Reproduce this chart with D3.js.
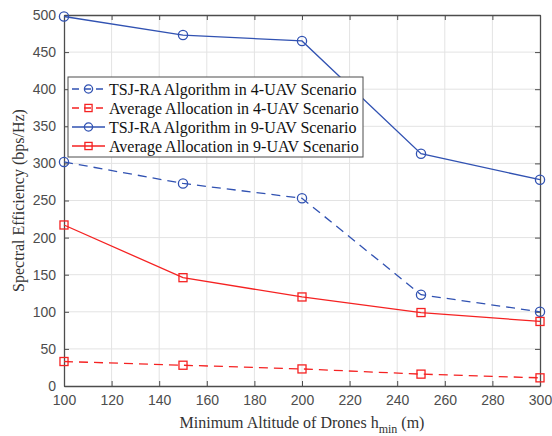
<!DOCTYPE html>
<html>
<head>
<meta charset="utf-8">
<script src="https://cdn.jsdelivr.net/npm/d3@7"></script>
<style>
    body { margin: 0; background: #fff; }
    svg { display: block; }
    .serif { font-family: "Liberation Serif", "Times New Roman", Times, serif; }
    .sans { font-family: "Liberation Sans", Arial, Helvetica, sans-serif; }
</style>
</head>
<body>
<div id="chart"></div>
<script>
// chart data
var altitudes = [100, 150, 200, 250, 300];
var tsj4 = [302, 273, 253, 123, 100];
var avg4 = [33, 28, 23, 16, 11];
var tsj9 = [498, 473, 465, 313, 278];
var avg9 = [217, 146, 120, 99, 87];
var seriesNames = [
    "TSJ-RA Algorithm in 4-UAV Scenario",
    "Average Allocation in 4-UAV Scenario",
    "TSJ-RA Algorithm in 9-UAV Scenario",
    "Average Allocation in 9-UAV Scenario"
];
var xTicks = [100, 120, 140, 160, 180, 200, 220, 240, 260, 280, 300];
var yTicks = [0, 50, 100, 150, 200, 250, 300, 350, 400, 450, 500];

(function(){
    var width = 552,
        height = 436;
    var left = 64, right = 540, top = 15, bottom = 386;
    var blue = "#3152b2", red = "#f52222", axisColor = "#4d4d4d";

    var series = [
        {name: seriesNames[0], values: tsj4, color: blue, dash: "9,6", marker: "circle"},
        {name: seriesNames[1], values: avg4, color: red, dash: "9,6", marker: "square"},
        {name: seriesNames[2], values: tsj9, color: blue, dash: null, marker: "circle"},
        {name: seriesNames[3], values: avg9, color: red, dash: null, marker: "square"}
    ];

    var svg = d3.select("#chart")
        .append("svg")
        .attr("width", width)
        .attr("height", height);

    var x = d3.scaleLinear().domain([100, 300]).range([left, right]);
    var y = d3.scaleLinear().domain([0, 500]).range([bottom, top]);

    //grid lines
    var grid = svg.append("g").attr("class", "grid");
    grid.selectAll(".vgrid")
        .data(xTicks.slice(1, -1))
        .enter()
        .append("line")
        .attr("x1", function(d){ return x(d); })
        .attr("x2", function(d){ return x(d); })
        .attr("y1", top)
        .attr("y2", bottom)
        .style("stroke", "#e3e3e3")
        .style("stroke-width", 1);
    grid.selectAll(".hgrid")
        .data(yTicks.slice(1, -1))
        .enter()
        .append("line")
        .attr("x1", left)
        .attr("x2", right)
        .attr("y1", function(d){ return y(d); })
        .attr("y2", function(d){ return y(d); })
        .style("stroke", "#e3e3e3")
        .style("stroke-width", 1);

    //axes, ticks pointing inward like matlab
    var xAxis = d3.axisBottom(x).tickValues(xTicks).tickSizeInner(-5).tickSizeOuter(0).tickPadding(9);
    var xAxisTop = d3.axisTop(x).tickValues(xTicks).tickSizeInner(-5).tickSizeOuter(0).tickFormat("");
    var yAxis = d3.axisLeft(y).tickValues(yTicks).tickSizeInner(-5).tickSizeOuter(0).tickPadding(8);
    var yAxisRight = d3.axisRight(y).tickValues(yTicks).tickSizeInner(-5).tickSizeOuter(0).tickFormat("");

    var axes = [
        svg.append("g").attr("transform", "translate(0," + bottom + ")").call(xAxis),
        svg.append("g").attr("transform", "translate(0," + top + ")").call(xAxisTop),
        svg.append("g").attr("transform", "translate(" + left + ",0)").call(yAxis),
        svg.append("g").attr("transform", "translate(" + right + ",0)").call(yAxisRight)
    ];
    axes.forEach(function(g){
        g.attr("font-family", null).attr("font-size", null).attr("class", "sans");
        g.select(".domain").style("stroke", axisColor).style("stroke-width", 1.3);
        g.selectAll(".tick line").style("stroke", axisColor).style("stroke-width", 1);
        g.selectAll(".tick text")
            .style("font-size", "14px")
            .style("fill", axisColor);
    });

    //series lines
    var line = d3.line()
        .x(function(d, i){ return x(altitudes[i]); })
        .y(function(d){ return y(d); });

    series.forEach(function(s){
        var g = svg.append("g");
        g.append("path")
            .datum(s.values)
            .attr("d", line)
            .style("fill", "none")
            .style("stroke", s.color)
            .style("stroke-width", 1.3)
            .style("stroke-dasharray", s.dash);
        drawMarkers(g, s, s.values.map(function(d, i){ return [x(altitudes[i]), y(d)]; }), 4.6);
    });

    function drawMarkers(g, s, pts, size){
        if (s.marker === "circle"){
            g.selectAll("circle")
                .data(pts)
                .enter()
                .append("circle")
                .attr("cx", function(d){ return d[0]; })
                .attr("cy", function(d){ return d[1]; })
                .attr("r", size)
                .style("fill", "none")
                .style("stroke", s.color)
                .style("stroke-width", 1.3);
        } else {
            var side = size * 1.75;
            g.selectAll("rect")
                .data(pts)
                .enter()
                .append("rect")
                .attr("x", function(d){ return d[0] - side / 2; })
                .attr("y", function(d){ return d[1] - side / 2; })
                .attr("width", side)
                .attr("height", side)
                .style("fill", "none")
                .style("stroke", s.color)
                .style("stroke-width", 1.3);
        }
    }

    //legend
    var lg = svg.append("g").attr("transform", "translate(68,77)");
    lg.append("rect")
        .attr("width", 295)
        .attr("height", 80)
        .style("fill", "#fff")
        .style("stroke", axisColor)
        .style("stroke-width", 1);
    series.forEach(function(s, i){
        var yy = 12 + i * 19;
        var row = lg.append("g").attr("transform", "translate(0," + yy + ")");
        row.append("line")
            .attr("x1", 4).attr("x2", 37)
            .attr("y1", 0).attr("y2", 0)
            .style("stroke", s.color)
            .style("stroke-width", 1.3)
            .style("stroke-dasharray", s.dash ? "7,5" : null);
        drawMarkers(row, s, [[20.5, 0]], 4.1);
        row.append("text")
            .attr("class", "serif")
            .attr("x", 41)
            .attr("y", 5.5)
            .text(s.name)
            .style("font-size", "16px")
            .style("fill", "#111");
    });

    //axis titles
    svg.append("text")
        .attr("class", "serif")
        .attr("transform", "translate(24," + ((top + bottom) / 2) + ") rotate(-90)")
        .attr("text-anchor", "middle")
        .text("Spectral Efficiency (bps/Hz)")
        .style("font-size", "16px")
        .style("fill", "#333");

    var xt = svg.append("text")
        .attr("class", "serif")
        .attr("x", (left + right) / 2)
        .attr("y", 428)
        .attr("text-anchor", "middle")
        .style("font-size", "16px")
        .style("fill", "#333");
    xt.append("tspan").text("Minimum Altitude of Drones h");
    xt.append("tspan").attr("dy", 5).style("font-size", "12px").text("min");
    xt.append("tspan").attr("dy", -5).text(" (m)");
})();
</script>
</body>
</html>
